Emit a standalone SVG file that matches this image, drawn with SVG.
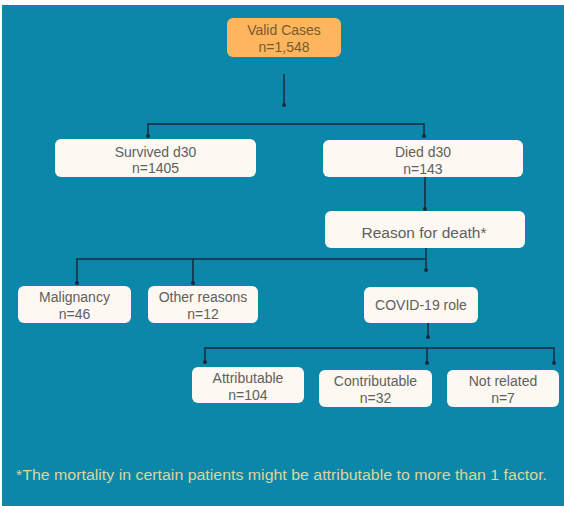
<svg xmlns="http://www.w3.org/2000/svg" width="564" height="506" viewBox="0 0 564 506">
<defs>
<style>
.box{fill:#fdf8f1;}
.orange{fill:#fdb65d;}
.t{font-family:"Liberation Sans",Arial,sans-serif;font-size:14px;fill:#606060;text-anchor:middle;}
.to{font-family:"Liberation Sans",Arial,sans-serif;font-size:14px;fill:#7a5a2e;text-anchor:middle;}
.ln{fill:none;stroke:#1a2a3c;stroke-width:1.5;}
.foot{font-family:"Liberation Sans",Arial,sans-serif;font-size:14px;fill:#ddd59c;}
</style>
<marker id="dot" viewBox="0 0 6 6" refX="3" refY="3" markerWidth="4" markerHeight="4" markerUnits="userSpaceOnUse">
<circle cx="3" cy="3" r="3" fill="#1a2a3c"/>
</marker>
</defs>
<rect x="0" y="0" width="564" height="506" fill="#ffffff"/>
<rect x="2" y="5" width="562" height="501" fill="#0b87a9"/>
<g id="connectors">
<path class="ln" d="M284 74 V105" marker-end="url(#dot)"/>
<path class="ln" d="M148 136 V124 H424 V136" marker-start="url(#dot)" marker-end="url(#dot)"/>
<path class="ln" d="M425 177 V209" marker-end="url(#dot)"/>
<path class="ln" d="M426 248 V270" marker-end="url(#dot)"/>
<path class="ln" d="M77 283 V259 H193 V283" marker-start="url(#dot)" marker-end="url(#dot)"/>
<path class="ln" d="M193 259 H426"/>
<path class="ln" d="M428 323 V337" marker-end="url(#dot)"/>
<path class="ln" d="M205 362 V348 H554 V363" marker-start="url(#dot)" marker-end="url(#dot)"/>
<path class="ln" d="M427 348 V363" marker-end="url(#dot)"/>
</g>
<g id="valid">
<rect class="orange" x="227" y="18" width="114" height="39" rx="6"/>
<text class="to" x="284" y="35">Valid Cases</text>
<text class="to" x="284" y="52">n=1,548</text>
</g>
<g id="survived">
<rect class="box" x="55" y="139" width="201" height="38" rx="6"/>
<text class="t" x="155.5" y="157">Survived d30</text>
<text class="t" x="155.5" y="173">n=1405</text>
</g>
<g id="died">
<rect class="box" x="323" y="140" width="200" height="37" rx="6"/>
<text class="t" x="423" y="157">Died d30</text>
<text class="t" x="423" y="174">n=143</text>
</g>
<g id="reason">
<rect class="box" x="325" y="211" width="200" height="37" rx="6"/>
<text class="t" x="424" y="238" style="font-size:15.5px">Reason for death*</text>
</g>
<g id="malignancy">
<rect class="box" x="18" y="286" width="113" height="37" rx="6"/>
<text class="t" x="74.5" y="302">Malignancy</text>
<text class="t" x="74.5" y="319">n=46</text>
</g>
<g id="other">
<rect class="box" x="148" y="286" width="110" height="37" rx="6"/>
<text class="t" x="203" y="302">Other reasons</text>
<text class="t" x="203" y="319">n=12</text>
</g>
<g id="covid">
<rect class="box" x="364" y="287" width="114" height="36" rx="6"/>
<text class="t" x="421" y="310">COVID-19 role</text>
</g>
<g id="attributable">
<rect class="box" x="192" y="367" width="112" height="36" rx="6"/>
<text class="t" x="248" y="383">Attributable</text>
<text class="t" x="248" y="400">n=104</text>
</g>
<g id="contributable">
<rect class="box" x="319" y="370" width="113" height="37" rx="6"/>
<text class="t" x="375.5" y="386">Contributable</text>
<text class="t" x="375.5" y="403">n=32</text>
</g>
<g id="notrelated">
<rect class="box" x="447" y="370" width="112" height="37" rx="6"/>
<text class="t" x="503" y="386">Not related</text>
<text class="t" x="503" y="403">n=7</text>
</g>
<text class="foot" x="16" y="480" textLength="531" lengthAdjust="spacingAndGlyphs">*The mortality in certain patients might be attributable to more than 1 factor.</text>
</svg>
